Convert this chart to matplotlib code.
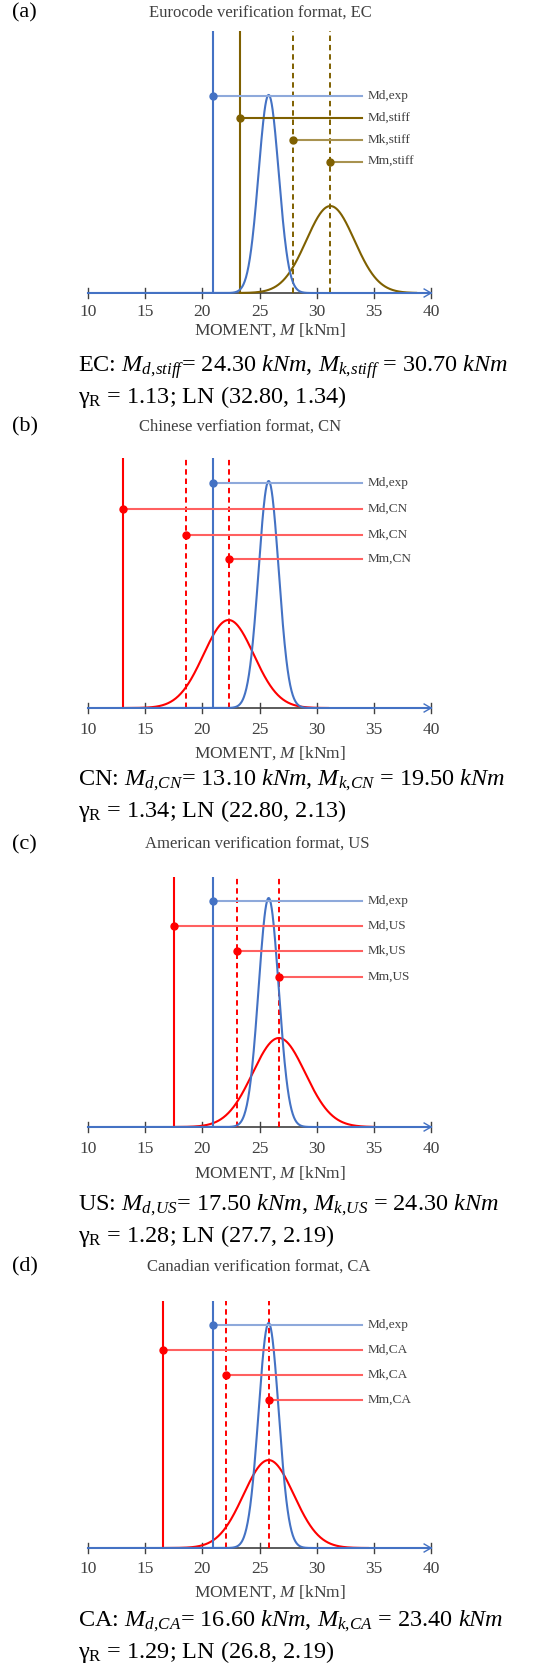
import numpy as np
import matplotlib.pyplot as plt

plt.rcParams['font.family'] = ['Liberation Serif', 'DejaVu Serif']
plt.rcParams['mathtext.fontset'] = 'custom'
plt.rcParams['mathtext.rm'] = 'Liberation Serif'
plt.rcParams['mathtext.it'] = 'Liberation Serif:italic'

# --- data ---------------------------------------------------------------
tags = ["(a)", "(b)", "(c)", "(d)"]
titles = ["Eurocode verification format, EC",
          "Chinese verfiation format, CN",
          "American verification format, US",
          "Canadian verification format, CA"]
codes = ["EC", "CN", "US", "CA"]
suffixes = ["stiff", "CN", "US", "CA"]

# experimental resistance (same in every panel)
md_exp = [20.9, 20.9, 20.9, 20.95]
exp_mean = 25.8
exp_sigma = 0.88
exp_peak = [0.756, 0.908, 0.916, 0.911]

# code resistance: design / characteristic / mean moments
md_code = [23.3, 13.1, 17.5, 16.6]
mk_code = [27.9, 18.6, 23.0, 22.1]
mm_code = [31.2, 22.3, 26.7, 25.8]
code_sigma = [2.1, 2.2, 2.3, 2.2]
code_peak = [0.332, 0.352, 0.356, 0.356]
code_end = [38.7, 31.0, 35.0, 34.5]

# heights of the labelled reference lines (Md,exp, Md, Mk, Mm)
levels = [[0.752, 0.668, 0.584, 0.500],
          [0.900, 0.796, 0.692, 0.596],
          [0.904, 0.804, 0.704, 0.600],
          [0.903, 0.802, 0.700, 0.599]]

# values quoted under each panel
cap_md = ["24.30", "13.10", "17.50", "16.60"]
cap_mk = ["30.70", "19.50", "24.30", "23.40"]
cap_gamma = ["1.13", "1.34", "1.28", "1.29"]
cap_ln = ["32.80, 1.34", "22.80, 2.13", "27.7, 2.19", "26.8, 2.19"]

xticks = [10, 15, 20, 25, 30, 35, 40]

# --- layout (pixels) ----------------------------------------------------
W, H = 556, 1668
X0, X1 = 88, 431
# top of verticals, baseline, title y, title x, ticklabels, xlabel, caption 1, caption 2
rows = [(31, 293, 13, 260, 312, 330, 367, 397),
        (458, 708, 427, 240, 730, 753, 780, 811),
        (877, 1127, 845, 257, 1149, 1173, 1205, 1236),
        (1301, 1548, 1267, 259, 1569, 1592, 1621, 1652)]

BLUE = '#4472C4'
BLUE_L = '#8EA9DB'
RED = '#FF0000'
RED_L = '#FF6060'
BROWN = '#7F6000'
BROWN_L = '#A8924F'
GREY = '#404040'

fig = plt.figure(figsize=(W / 100, H / 100), dpi=100)


def fx(px):
    return px / W


def fy(py):
    return 1 - py / H


for i in range(4):
    vtop, base, ty, tx, tly, xly, c1y, c2y = rows[i]
    span = base - vtop
    ax = fig.add_axes([fx(X0), fy(base), (X1 - X0) / W, span / H])
    ax.set_xlim(10, 40)
    ax.set_ylim(0, 1)
    ax.axis('off')

    col = BROWN if i == 0 else RED
    col_l = BROWN_L if i == 0 else RED_L
    dy = 5 / span

    # moment axis with ticks and arrow head
    ax.plot([10, 40], [0, 0], color=GREY, lw=1.2, clip_on=False, zorder=1)
    for t in xticks:
        ax.plot([t, t], [-dy, dy], color=GREY, lw=1.0, clip_on=False, zorder=1)
        ax.annotate(str(t), (t, 0), xytext=(0, -(tly - base) * 0.72),
                    textcoords='offset points', ha='center', va='center',
                    fontsize=12.5, color=GREY)
    ax.plot([39.4, 40, 39.4], [dy * 0.8, 0, -dy * 0.8], color=BLUE, lw=1.0,
            clip_on=False, zorder=6)

    # distributions
    xc = np.linspace(md_code[i], code_end[i], 400)
    yc = code_peak[i] * np.exp(-0.5 * ((xc - mm_code[i]) / code_sigma[i]) ** 2)
    ax.plot(xc, yc, color=col, lw=1.5, clip_on=False, zorder=2)
    xe = np.linspace(10, 40, 800)
    ye = exp_peak[i] * np.exp(-0.5 * ((xe - exp_mean) / exp_sigma) ** 2)
    ax.plot(xe, ye, color=BLUE, lw=1.5, clip_on=False, zorder=3)

    # vertical reference lines
    ax.plot([md_exp[i]] * 2, [0, 1], color=BLUE, lw=1.5, zorder=2.5)
    ax.plot([md_code[i]] * 2, [0, 1], color=col, lw=1.5, zorder=2.5)
    for xv in (mk_code[i], mm_code[i]):
        ax.plot([xv, xv], [0, 1], color=col, lw=1.4, dashes=[2.8, 2.0], zorder=2.5)

    # labelled horizontal markers
    xs = [md_exp[i], md_code[i], mk_code[i], mm_code[i]]
    names = ["Md,exp", "Md," + suffixes[i], "Mk," + suffixes[i], "Mm," + suffixes[i]]
    for k in range(4):
        c_line = BLUE_L if k == 0 else (col if (i == 0 and k == 1) else col_l)
        c_dot = BLUE if k == 0 else col
        ax.plot([xs[k], 33.95], [levels[i][k]] * 2, color=c_line, lw=1.5, zorder=4)
        ax.plot(xs[k], levels[i][k], 'o', color=c_dot, ms=5, zorder=5)
        ax.text(34.45, levels[i][k], names[k], ha='left', va='center',
                fontsize=9.5, color=GREY)

    # panel tag, title, axis label and captions
    fig.text(fx(12), fy(ty), tags[i], ha='left', va='center', fontsize=16)
    fig.text(fx(tx), fy(ty), titles[i], ha='center', va='center',
             fontsize=12, color=GREY)
    fig.text(fx(270), fy(xly), 'MOMENT, $M$ [kNm]', ha='center', va='center',
             fontsize=12.5, color=GREY)
    s = suffixes[i]
    cap1 = (codes[i] + ': $M_{d,\\!' + s + '}$= ' + cap_md[i] + ' $kNm$, $M_{k,\\!' + s
            + '}$ = ' + cap_mk[i] + ' $kNm$')
    cap2 = 'γ$_\\mathrm{R}$ = ' + cap_gamma[i] + '; LN (' + cap_ln[i] + ')'
    fig.text(fx(78), fy(c1y), cap1, ha='left', va='center', fontsize=17.5)
    fig.text(fx(78), fy(c2y), cap2, ha='left', va='center', fontsize=17.5)

fig.savefig('out.png', dpi=100)
